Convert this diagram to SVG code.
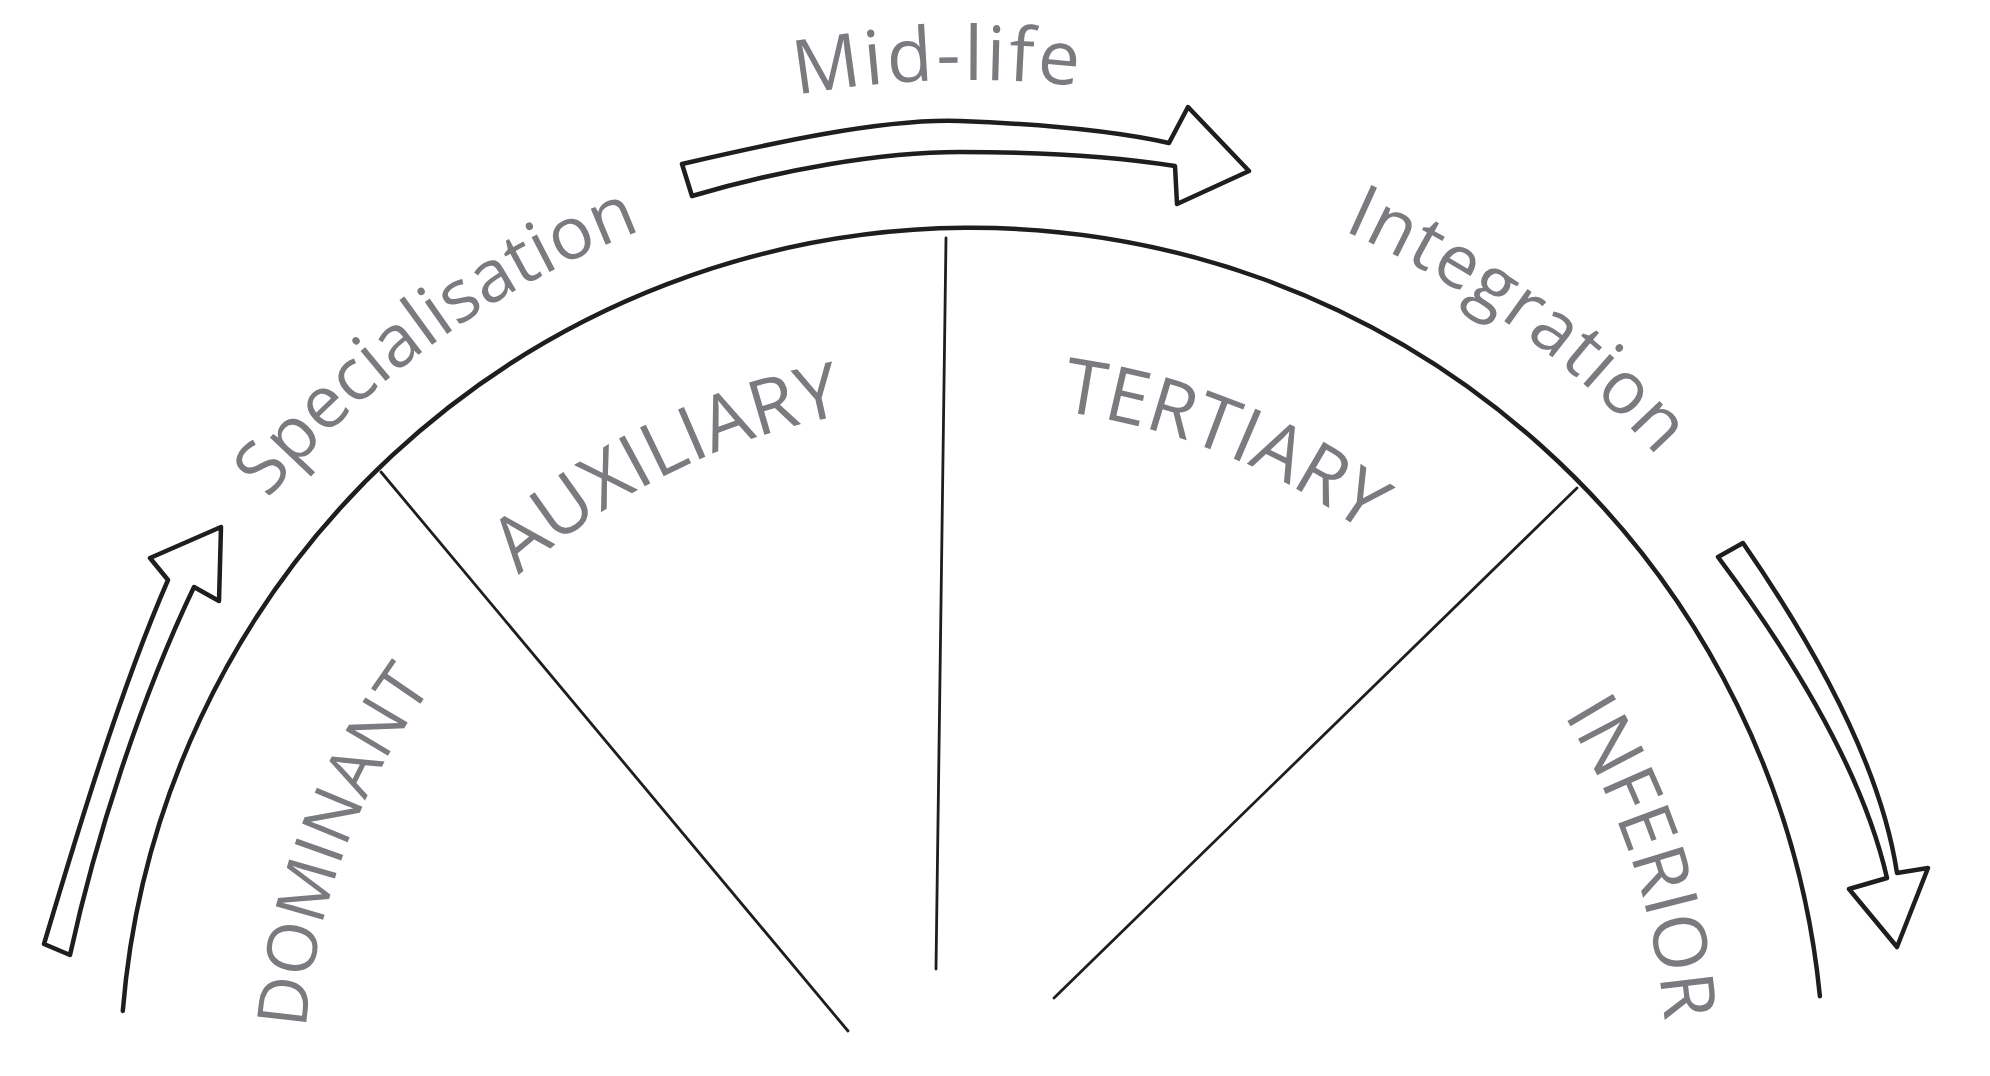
<svg xmlns="http://www.w3.org/2000/svg" xmlns:xlink="http://www.w3.org/1999/xlink" width="1990" height="1076" viewBox="0 0 1990 1076">
<style>
.ln{fill:none;stroke:#1e1e1e;stroke-linecap:round;stroke-linejoin:round}
.arc{stroke-width:4.5}
.div{stroke-width:2.8}
.arr{stroke-width:4.5}
.lbl{font-family:"Open Sans","Noto Sans","Liberation Sans",sans-serif;fill:#7a7b7f}
</style>
<defs>
<path id="p-spec" d="M 268.07 499.31 A 911 911 0 0 1 890.60 172.47"/>
<path id="p-mid" d="M 796.35 95.19 A 1000 1000 0 0 1 1177.91 101.85"/>
<path id="p-int" d="M 1343.01 230.27 A 928 928 0 0 1 1773.67 616"/>
<path id="p-aux" d="M 518.76 575.31 A 677 677 0 0 1 970 403"/>
<path id="p-ter" d="M 1060.44 411.09 A 675 675 0 0 1 1447.30 602.70"/>
<path id="p-dom" d="M 305.96 1028.90 A 666 666 0 0 1 499.07 609.07"/>
<path id="p-inf" d="M 1563.66 714.78 A 697 697 0 0 1 1667 1080"/>
</defs>
<rect width="1990" height="1076" fill="#ffffff"/>
<g id="arc">
<path class="ln arc" d="M 122.8 1010.9 A 852 852 0 0 1 1819.9 996.2"/>
</g>
<g id="sectors">
<line class="ln div" x1="381" y1="472" x2="848" y2="1031"/>
<line class="ln div" x1="946" y1="238" x2="936" y2="969"/>
<line class="ln div" x1="1577" y1="488" x2="1054" y2="998"/>
</g>
<g id="connectors">
<path id="arrow-specialisation" class="ln arr" d="M 44 944 C 75 840, 120 690, 168 580 L 150 558 L 221 527 L 219 601 L 194 587 C 140 700, 95 840, 70 955 Z"/>
<path id="arrow-midlife" class="ln arr" d="M 682 164 C 760 146, 880 118, 960 121 C 1040 124, 1110 130, 1169 143 L 1188 107 L 1249 171 L 1177 204 L 1175 166 C 1110 156, 1040 152, 960 152 C 880 152, 780 170, 692 196 Z"/>
<path id="arrow-integration" class="ln arr" d="M 1718 557 C 1780 640, 1860 760, 1887 878 L 1849 889 L 1897 947 L 1928 868 L 1897 873 C 1880 760, 1810 640, 1743 543 Z"/>
</g>
<g id="label-specialisation"><text class="lbl" font-size="73"><textPath xlink:href="#p-spec" href="#p-spec">Specialisation</textPath></text></g>
<g id="label-midlife"><text class="lbl" font-size="75" letter-spacing="3"><textPath xlink:href="#p-mid" href="#p-mid">Mid-life</textPath></text></g>
<g id="label-integration"><text class="lbl" font-size="74" letter-spacing="1"><textPath xlink:href="#p-int" href="#p-int">Integration</textPath></text></g>
<g id="node-auxiliary"><text class="lbl" font-size="76"><textPath xlink:href="#p-aux" href="#p-aux">AUXILIARY</textPath></text></g>
<g id="node-tertiary"><text class="lbl" font-size="76"><textPath xlink:href="#p-ter" href="#p-ter">TERTIARY</textPath></text></g>
<g id="node-dominant"><text class="lbl" font-size="69"><textPath xlink:href="#p-dom" href="#p-dom">DOMINANT</textPath></text></g>
<g id="node-inferior"><text class="lbl" font-size="74"><textPath xlink:href="#p-inf" href="#p-inf">INFERIOR</textPath></text></g>
</svg>
